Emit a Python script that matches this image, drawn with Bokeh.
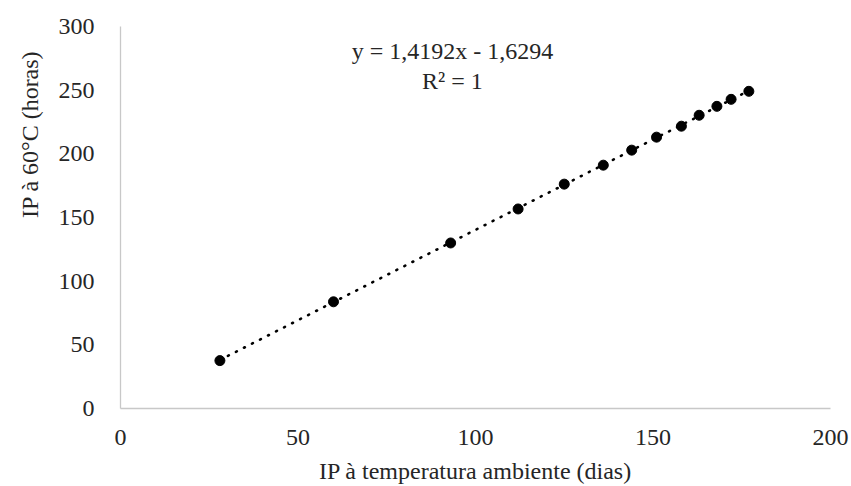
from bokeh.plotting import figure
from bokeh.models import FixedTicker, Range1d, Label, ColumnDataSource, Title
from bokeh.embed import file_html
from bokeh.resources import INLINE

# Data
ip_ambiente = [28, 60, 93, 112, 125, 136, 144, 151, 158, 163, 168, 172, 177]
ip_60c = [37.6, 83.8, 130.0, 156.7, 176.2, 191.1, 202.9, 213.1, 221.7, 230.3, 237.3, 242.8, 249.1]
slope = 1.4192
intercept = -1.6294
eq_text = "y = 1,4192x - 1,6294"
r2_text = "R² = 1"
x_title = "IP à temperatura ambiente (dias)"
y_title = "IP à 60°C (horas)"
x_ticks = [0, 50, 100, 150, 200]
y_ticks = [0, 50, 100, 150, 200, 250, 300]

FONT = "'Liberation Serif', 'DejaVu Serif', serif"
FS = "24px"

p = figure(width=851, height=486, output_backend="svg", toolbar_location=None,
           x_range=Range1d(0, 200), y_range=Range1d(0, 300),
           min_border_left=120, min_border_right=21, min_border_top=26, min_border_bottom=77)
p.outline_line_color = None
p.grid.grid_line_color = None
p.background_fill_color = "white"
p.border_fill_color = "white"

# trendline
tx = [ip_ambiente[0], ip_ambiente[-1]]
ty = [slope * v + intercept for v in tx]
p.line(tx, ty, line_color="black", line_width=2.6, line_dash="1 8", line_cap="round")

src = ColumnDataSource(dict(x=ip_ambiente, y=ip_60c))
p.scatter("x", "y", source=src, size=10, fill_color="black", line_color="black")

for ax in (p.xaxis[0], p.yaxis[0]):
    ax.axis_line_color = "#c8c8c8"
    ax.axis_line_width = 1.3
    ax.major_tick_line_color = None
    ax.minor_tick_line_color = None
    ax.major_label_text_font = FONT
    ax.major_label_text_font_size = FS
    ax.major_label_text_color = "#262626"
    ax.axis_label_text_font = FONT
    ax.axis_label_text_font_size = FS
    ax.axis_label_text_font_style = "normal"
    ax.axis_label_text_color = "#262626"

p.xaxis.ticker = FixedTicker(ticks=x_ticks)
p.yaxis.ticker = FixedTicker(ticks=y_ticks)
p.xaxis.major_label_standoff = 15
p.yaxis.major_label_standoff = 20
p.xaxis.axis_label = x_title
p.xaxis.axis_label_standoff = 10

# y-axis title (placed above centre, as in the original)
yt = Title(text=y_title, align="right", offset=24, text_font=FONT, text_font_size=FS,
           text_font_style="normal", text_color="#262626", standoff=26)
p.add_layout(yt, "left")

p.add_layout(Label(x=93.5, y=281, text=eq_text, text_align="center", text_baseline="middle",
                   text_font=FONT, text_font_size=FS, text_color="#262626"))
p.add_layout(Label(x=93.5, y=257.5, text=r2_text, text_align="center", text_baseline="middle",
                   text_font=FONT, text_font_size=FS, text_color="#262626"))

open("out.html", "w").write(file_html(p, INLINE))
